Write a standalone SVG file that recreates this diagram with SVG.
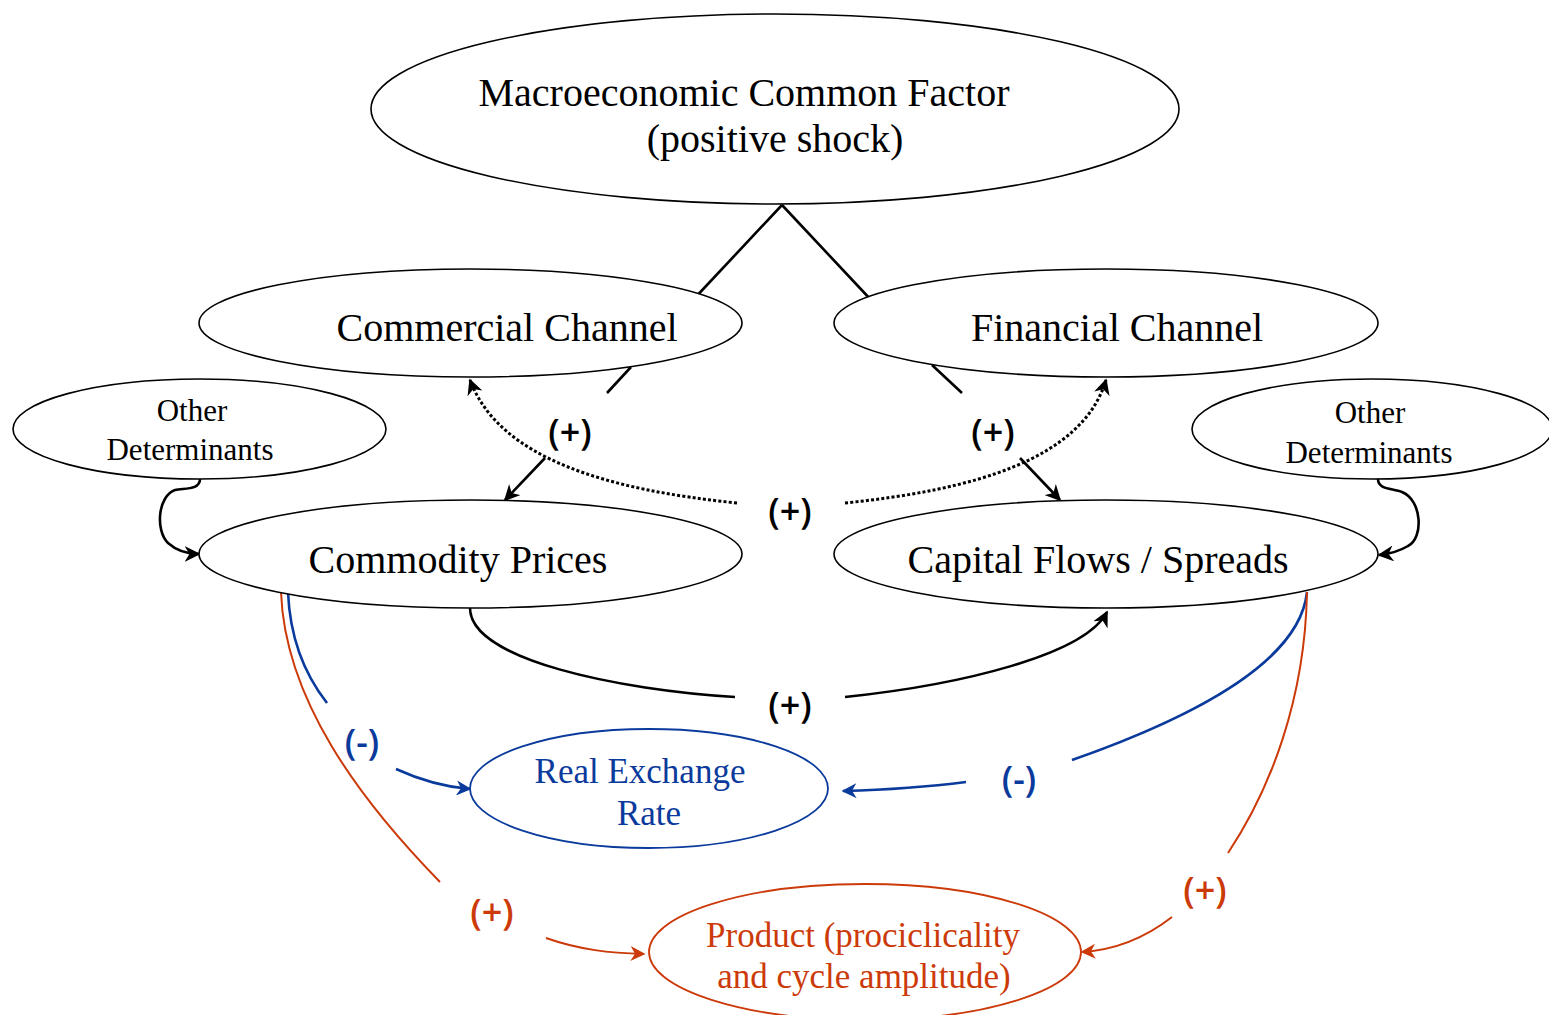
<svg xmlns="http://www.w3.org/2000/svg" width="1549" height="1015" viewBox="0 0 1549 1015">
<style>
.node{fill:#fff;stroke:#000;stroke-width:1.6}
.t{font-family:"Liberation Serif","Times New Roman",serif;text-anchor:middle;fill:#000}
.big{font-size:40px}
.small{font-size:31px}
.mid{font-size:35px}
.lbl{font-family:"Open Sans","Liberation Sans",sans-serif;font-size:36px;font-weight:600;text-anchor:middle;fill:#000}
.k{fill:none;stroke:#000;stroke-width:2.6}
.dot{fill:none;stroke:#000;stroke-width:3;stroke-dasharray:3 2.2}
.b{fill:none;stroke:#0a3a9c;stroke-width:2.6}
.r{fill:none;stroke:#cc3a0a;stroke-width:2}
</style>
<defs>
<marker id="akb" viewBox="0 0 10 10" refX="9" refY="5" markerWidth="16" markerHeight="16" markerUnits="userSpaceOnUse" orient="auto"><path d="M0,0 L10,5 L0,10 L3,5 Z" fill="#000"/></marker>
<marker id="ab" viewBox="0 0 10 10" refX="9" refY="5" markerWidth="15" markerHeight="15" markerUnits="userSpaceOnUse" orient="auto"><path d="M0,0 L10,5 L0,10 L3,5 Z" fill="#0a3a9c"/></marker>
<marker id="ar" viewBox="0 0 10 10" refX="9" refY="5" markerWidth="15" markerHeight="15" markerUnits="userSpaceOnUse" orient="auto"><path d="M0,0 L10,5 L0,10 L3,5 Z" fill="#cc3a0a"/></marker>
</defs>
<g id="connectors">
<path class="k" d="M782,205 L692,301 M631,367 L607,393"/>
<path class="k" d="M545,458 L505,500" marker-end="url(#akb)"/>
<path class="k" d="M782,205 L872,301 M932,365 L962,393"/>
<path class="k" d="M1020,458 L1060,500" marker-end="url(#akb)"/>
<path class="dot" d="M737,503 C610,490 500,460 470,380" marker-end="url(#akb)"/>
<path class="dot" d="M845,503 C972,490 1082,460 1106,380" marker-end="url(#akb)"/>
<path class="k" d="M470,608 C470,660 620,690 735,697"/>
<path class="k" d="M845,697 C960,685 1085,655 1107,612" marker-end="url(#akb)"/>
<path class="k" d="M200,479 C200,490 185,488 175,490 C158,496 155,530 168,543 C178,552 188,554 199,554" marker-end="url(#akb)"/>
<path class="k" d="M1378,479 C1378,490 1393,488 1402,492 C1422,500 1424,538 1408,546 C1398,552 1388,554 1379,555" marker-end="url(#akb)"/>
<path class="b" d="M288,592 C290,640 305,675 327,703"/>
<path class="b" d="M396,769 C420,780 445,787 470,789" marker-end="url(#ab)"/>
<path class="r" d="M281,592 C285,700 360,800 440,882"/>
<path class="r" d="M546,938 C580,950 610,953 644,954" marker-end="url(#ar)"/>
<path class="b" d="M1307,592 C1300,660 1200,715 1072,760"/>
<path class="b" d="M966,782 C920,788 880,790 843,791" marker-end="url(#ab)"/>
<path class="r" d="M1307,592 C1305,700 1270,790 1228,853"/>
<path class="r" d="M1172,917 C1145,938 1115,950 1082,952" marker-end="url(#ar)"/>
<text class="lbl" x="570" y="445">(+)</text>
<text class="lbl" x="993" y="445">(+)</text>
<text class="lbl" x="790" y="524">(+)</text>
<text class="lbl" x="790" y="718">(+)</text>
<text class="lbl" x="362" y="755" style="fill:#0a3a9c">(-)</text>
<text class="lbl" x="1019" y="792" style="fill:#0a3a9c">(-)</text>
<text class="lbl" x="492" y="925" style="fill:#cc3a0a">(+)</text>
<text class="lbl" x="1205" y="903" style="fill:#cc3a0a">(+)</text>
</g>
<g id="macro">
<ellipse class="node" cx="775" cy="109" rx="404" ry="95"/>
<text class="t big" x="744" y="106">Macroeconomic Common Factor</text>
<text class="t big" x="775" y="152">(positive shock)</text>
</g>
<g id="commercial">
<ellipse class="node" cx="470.5" cy="323" rx="271.5" ry="54"/>
<text class="t big" x="507" y="341">Commercial Channel</text>
</g>
<g id="financial">
<ellipse class="node" cx="1106" cy="323" rx="272" ry="54"/>
<text class="t big" x="1117" y="341">Financial Channel</text>
</g>
<g id="other-left">
<ellipse class="node" cx="199.5" cy="429" rx="186.5" ry="50"/>
<text class="t small" x="192" y="421">Other</text>
<text class="t small" x="190" y="460">Determinants</text>
</g>
<g id="other-right">
<ellipse class="node" cx="1372" cy="429" rx="180" ry="50"/>
<text class="t small" x="1370" y="423">Other</text>
<text class="t small" x="1369" y="463">Determinants</text>
</g>
<g id="commodity">
<ellipse class="node" cx="470.5" cy="554" rx="271.5" ry="54"/>
<text class="t big" x="458" y="573">Commodity Prices</text>
</g>
<g id="capital">
<ellipse class="node" cx="1106" cy="554" rx="272" ry="54"/>
<text class="t big" x="1098" y="573">Capital Flows / Spreads</text>
</g>
<g id="rer">
<ellipse cx="649" cy="788.5" rx="179" ry="59.5" fill="#fff" stroke="#0a3a9c" stroke-width="1.8"/>
<text class="t mid" x="640" y="783" style="fill:#0a3a9c">Real Exchange</text>
<text class="t mid" x="649" y="825" style="fill:#0a3a9c">Rate</text>
</g>
<g id="product">
<ellipse cx="865" cy="952" rx="216" ry="68" fill="#fff" stroke="#cc3a0a" stroke-width="1.8"/>
<text class="t mid" x="863" y="947" style="fill:#cc3a0a">Product (prociclicality</text>
<text class="t mid" x="864" y="988" style="fill:#cc3a0a">and cycle amplitude)</text>
</g>
</svg>
